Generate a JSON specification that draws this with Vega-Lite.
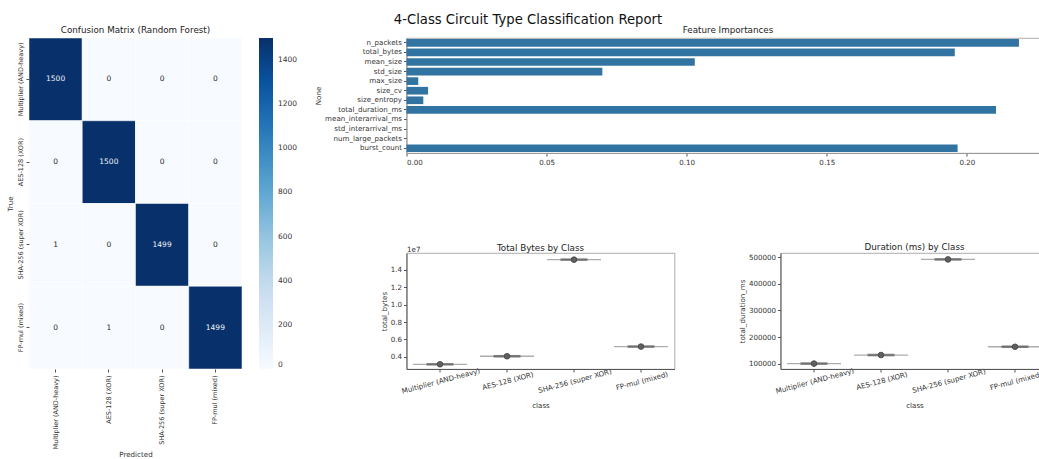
{
  "$schema": "https://vega.github.io/schema/vega-lite/v6.json",
  "padding": {"left": 5, "top": 12, "right": 0, "bottom": 0},
  "title": {"text": "4-Class Circuit Type Classification Report", "fontSize": 13.2, "fontWeight": "normal", "color": "#111", "anchor": "middle", "offset": -1},
  "config": {
    "font": "DejaVu Sans",
    "view": {"stroke": "#999", "strokeWidth": 0.8},
    "axis": {"labelFontSize": 7.1, "titleFontSize": 7.1, "titleFontWeight": "normal", "labelColor": "#333", "titleColor": "#333", "domainColor": "#555", "tickColor": "#555", "tickSize": 3, "grid": false, "labelPadding": 2, "titlePadding": 3},
    "title": {"fontSize": 8.75, "fontWeight": "normal", "color": "#222", "offset": 3},
    "legend": {"padding": 0}
  },
  "resolve": {"scale": {"color": "independent"}, "legend": {"color": "independent"}},
  "spacing": 15.5,
  "hconcat": [
    {
      "width": 213,
      "height": 331,
      "view": {"stroke": null},
      "title": {"text": "Confusion Matrix (Random Forest)"},
      "data": {"values": [
        {"true_class": "Multiplier (AND-heavy)", "pred": "Multiplier (AND-heavy)", "count": 1500},
        {"true_class": "Multiplier (AND-heavy)", "pred": "AES-128 (XOR)", "count": 0},
        {"true_class": "Multiplier (AND-heavy)", "pred": "SHA-256 (super XOR)", "count": 0},
        {"true_class": "Multiplier (AND-heavy)", "pred": "FP-mul (mixed)", "count": 0},
        {"true_class": "AES-128 (XOR)", "pred": "Multiplier (AND-heavy)", "count": 0},
        {"true_class": "AES-128 (XOR)", "pred": "AES-128 (XOR)", "count": 1500},
        {"true_class": "AES-128 (XOR)", "pred": "SHA-256 (super XOR)", "count": 0},
        {"true_class": "AES-128 (XOR)", "pred": "FP-mul (mixed)", "count": 0},
        {"true_class": "SHA-256 (super XOR)", "pred": "Multiplier (AND-heavy)", "count": 1},
        {"true_class": "SHA-256 (super XOR)", "pred": "AES-128 (XOR)", "count": 0},
        {"true_class": "SHA-256 (super XOR)", "pred": "SHA-256 (super XOR)", "count": 1499},
        {"true_class": "SHA-256 (super XOR)", "pred": "FP-mul (mixed)", "count": 0},
        {"true_class": "FP-mul (mixed)", "pred": "Multiplier (AND-heavy)", "count": 0},
        {"true_class": "FP-mul (mixed)", "pred": "AES-128 (XOR)", "count": 1},
        {"true_class": "FP-mul (mixed)", "pred": "SHA-256 (super XOR)", "count": 0},
        {"true_class": "FP-mul (mixed)", "pred": "FP-mul (mixed)", "count": 1499}
      ]},
      "encoding": {
        "x": {"field": "pred", "type": "nominal", "sort": ["Multiplier (AND-heavy)", "AES-128 (XOR)", "SHA-256 (super XOR)", "FP-mul (mixed)"], "scale": {"paddingInner": 0, "paddingOuter": 0}, "axis": {"title": "Predicted", "labelAngle": -90, "labelFontSize": 6.5, "domain": false, "labelPadding": 3, "titlePadding": 2}},
        "y": {"field": "true_class", "type": "nominal", "sort": ["Multiplier (AND-heavy)", "AES-128 (XOR)", "SHA-256 (super XOR)", "FP-mul (mixed)"], "scale": {"paddingInner": 0, "paddingOuter": 0}, "axis": {"title": "True", "labelAngle": -90, "labelFontSize": 6.5, "labelAlign": "center", "labelBaseline": "bottom", "domain": false, "labelPadding": 3, "titlePadding": 4}}
      },
      "layer": [
        {"mark": {"type": "rect", "stroke": "white", "strokeWidth": 0.5},
         "encoding": {"color": {"field": "count", "type": "quantitative",
           "scale": {"domain": [0, 187.5, 375, 562.5, 750, 937.5, 1125, 1312.5, 1500], "range": ["#f7fbff", "#deebf7", "#c6dbef", "#9ecae1", "#6baed6", "#4292c6", "#2171b5", "#08519c", "#08306b"], "interpolate": "rgb"},
           "legend": {"title": null, "orient": "right", "direction": "vertical", "gradientLength": 331, "gradientThickness": 14, "values": [0, 200, 400, 600, 800, 1000, 1200, 1400], "format": "d", "labelFontSize": 7.5, "labelColor": "#333", "labelOffset": 5, "offset": 17, "labelBaseline": "middle", "gradientStrokeWidth": 0}}}},
        {"mark": {"type": "text", "fontSize": 7.5},
         "encoding": {"text": {"field": "count", "type": "quantitative"}, "color": {"condition": {"test": "datum.count > 750", "value": "#f0f4fa"}, "value": "#262626"}}}
      ]
    },
    {
      "spacing": 76,
      "vconcat": [
        {
          "width": 643,
          "height": 115,
          "title": {"text": "Feature Importances"},
          "data": {"values": [
            {"feature": "n_packets", "importance": 0.2186},
            {"feature": "total_bytes", "importance": 0.1957},
            {"feature": "mean_size", "importance": 0.1029},
            {"feature": "std_size", "importance": 0.0699},
            {"feature": "max_size", "importance": 0.0042},
            {"feature": "size_cv", "importance": 0.0077},
            {"feature": "size_entropy", "importance": 0.006},
            {"feature": "total_duration_ms", "importance": 0.2104},
            {"feature": "mean_interarrival_ms", "importance": 0},
            {"feature": "std_interarrival_ms", "importance": 0},
            {"feature": "num_large_packets", "importance": 0},
            {"feature": "burst_count", "importance": 0.1967}
          ]},
          "mark": {"type": "bar", "color": "#3274a1"},
          "encoding": {
            "y": {"field": "feature", "type": "nominal", "sort": null, "scale": {"paddingInner": 0.2, "paddingOuter": 0.1}, "axis": {"title": "None", "domainColor": "#999"}},
            "x": {"field": "importance", "type": "quantitative", "scale": {"domain": [0, 0.2295], "nice": false}, "axis": {"title": null, "values": [0, 0.05, 0.1, 0.15, 0.2], "format": ".2f", "domainColor": "#999"}}
          }
        },
        {
          "spacing": 62,
          "hconcat": [
            {
              "width": 268,
              "height": 116,
              "title": {"text": "Total Bytes by Class", "offset": -8},
              "data": {"values": [
                {"class": "Multiplier (AND-heavy)", "total_bytes": 3160000},
                {"class": "AES-128 (XOR)", "total_bytes": 4080000},
                {"class": "SHA-256 (super XOR)", "total_bytes": 15150000},
                {"class": "FP-mul (mixed)", "total_bytes": 5190000}
              ]},
              "encoding": {
                "y": {"field": "total_bytes", "type": "quantitative", "scale": {"domain": [2620000, 15910000], "nice": false, "zero": false}, "axis": {"title": "total_bytes", "values": [4000000, 6000000, 8000000, 10000000, 12000000, 14000000], "labelExpr": "format(datum.value / 10000000, '.1f')"}}
              },
              "resolve": {"axis": {"x": "independent"}},
              "layer": [
                {"mark": {"type": "tick", "size": 54, "thickness": 1.3, "color": "#8a8a8a"},
                 "encoding": {"x": {"field": "class", "type": "nominal", "sort": null, "scale": {"paddingInner": 0, "paddingOuter": 0}, "axis": {"title": "class", "labelAngle": -15, "labelAlign": "center", "labelBaseline": "top", "labelPadding": 5, "titlePadding": 7}}}},
                {"mark": {"type": "tick", "size": 27, "thickness": 2.6, "color": "#555"},
                 "encoding": {"x": {"field": "class", "type": "nominal", "sort": null, "axis": null}}},
                {"mark": {"type": "point", "shape": "circle", "size": 32, "filled": true, "color": "#606060", "stroke": "#404040", "strokeWidth": 0.8, "opacity": 1},
                 "encoding": {"x": {"field": "class", "type": "nominal", "sort": null, "axis": {"orient": "top", "title": "1e7", "labels": false, "ticks": false, "domain": false, "titleAnchor": "start", "titleAlign": "left", "titlePadding": 1, "titleFontSize": 7.1}}}}
              ]
            },
            {
              "width": 268,
              "height": 116,
              "title": {"text": "Duration (ms) by Class", "offset": 1},
              "data": {"values": [
                {"class": "Multiplier (AND-heavy)", "total_duration_ms": 101500},
                {"class": "AES-128 (XOR)", "total_duration_ms": 133500},
                {"class": "SHA-256 (super XOR)", "total_duration_ms": 491000},
                {"class": "FP-mul (mixed)", "total_duration_ms": 164500}
              ]},
              "encoding": {
                "x": {"field": "class", "type": "nominal", "sort": null, "scale": {"paddingInner": 0, "paddingOuter": 0}, "axis": {"title": "class", "labelAngle": -15, "labelAlign": "center", "labelBaseline": "top", "labelPadding": 5, "titlePadding": 7}},
                "y": {"field": "total_duration_ms", "type": "quantitative", "scale": {"domain": [81250, 515000], "nice": false, "zero": false}, "axis": {"title": "total_duration_ms", "values": [100000, 200000, 300000, 400000, 500000], "format": "d"}}
              },
              "layer": [
                {"mark": {"type": "tick", "size": 54, "thickness": 1.3, "color": "#8a8a8a"}},
                {"mark": {"type": "tick", "size": 27, "thickness": 2.6, "color": "#555"}},
                {"mark": {"type": "point", "shape": "circle", "size": 32, "filled": true, "color": "#606060", "stroke": "#404040", "strokeWidth": 0.8, "opacity": 1}}
              ]
            }
          ]
        }
      ]
    }
  ]
}
